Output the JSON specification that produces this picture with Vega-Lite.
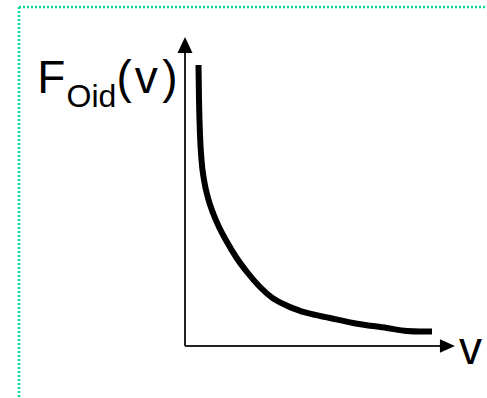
{
  "$schema": "https://vega.github.io/schema/vega-lite/v6.json",
  "width": 487,
  "height": 398,
  "padding": 0,
  "autosize": {"type": "none"},
  "background": "white",
  "config": {"view": {"stroke": null}},
  "datasets": {
    "frame": [
      {"x": -6.148, "y": 10.935, "x2": 11.3, "y2": 10.935},
      {"x": -6.148, "y": 10.935, "x2": -6.148, "y2": -2.0}
    ],
    "axes": [
      {"x": 0, "y": 0, "x2": 9.45, "y2": 0},
      {"x": 0, "y": 0, "x2": 0, "y2": 9.45}
    ],
    "yTip": [{"x": 0, "y": 9.71}],
    "xTip": [{"x": 9.72, "y": 0}],
    "curve": [
      {"v": 0.500, "f": 9.065},
      {"v": 0.519, "f": 7.935},
      {"v": 0.556, "f": 6.806},
      {"v": 0.611, "f": 6.000},
      {"v": 0.704, "f": 5.355},
      {"v": 0.852, "f": 4.774},
      {"v": 1.037, "f": 4.290},
      {"v": 1.259, "f": 3.839},
      {"v": 1.556, "f": 3.355},
      {"v": 1.889, "f": 2.871},
      {"v": 2.296, "f": 2.387},
      {"v": 2.778, "f": 1.903},
      {"v": 3.222, "f": 1.560},
      {"v": 3.778, "f": 1.300},
      {"v": 4.519, "f": 1.065},
      {"v": 5.370, "f": 0.903},
      {"v": 6.222, "f": 0.742},
      {"v": 7.481, "f": 0.581},
      {"v": 8.222, "f": 0.484},
      {"v": 8.704, "f": 0.468},
      {"v": 9.148, "f": 0.468}
    ],
    "bigText": [
      {"x": -5.474, "y": 8.152, "t": "F"},
      {"x": -2.537, "y": 8.152, "t": "("},
      {"x": -1.863, "y": 8.152, "t": "v"},
      {"x": -0.841, "y": 8.152, "t": ")"},
      {"x": 10.148, "y": -0.59, "t": "v"}
    ],
    "subText": [
      {"x": -4.389, "y": 7.71, "t": "Oid"}
    ]
  },
  "layer": [
    {
      "data": {"name": "frame"},
      "mark": {"type": "rule", "color": "#00d89c", "strokeWidth": 2.5, "strokeDash": [2, 2]},
      "encoding": {
        "x": {"field": "x", "type": "quantitative", "scale": {"domain": [-6.8519, 11.1852], "nice": false, "zero": false}, "axis": null},
        "y": {"field": "y", "type": "quantitative", "scale": {"domain": [-1.6774, 11.1613], "nice": false, "zero": false}, "axis": null},
        "x2": {"field": "x2"},
        "y2": {"field": "y2"}
      }
    },
    {
      "data": {"name": "axes"},
      "mark": {"type": "rule", "color": "#222222", "strokeWidth": 2},
      "encoding": {
        "x": {"field": "x", "type": "quantitative", "scale": {"domain": [-6.8519, 11.1852], "nice": false, "zero": false}, "axis": null},
        "y": {"field": "y", "type": "quantitative", "scale": {"domain": [-1.6774, 11.1613], "nice": false, "zero": false}, "axis": null},
        "x2": {"field": "x2"},
        "y2": {"field": "y2"}
      }
    },
    {
      "data": {"name": "yTip"},
      "mark": {"type": "point", "shape": "M0,-1.07L1,1.07L-1,1.07Z", "size": 225, "filled": true, "color": "black", "opacity": 1},
      "encoding": {
        "x": {"field": "x", "type": "quantitative", "scale": {"domain": [-6.8519, 11.1852], "nice": false, "zero": false}, "axis": null},
        "y": {"field": "y", "type": "quantitative", "scale": {"domain": [-1.6774, 11.1613], "nice": false, "zero": false}, "axis": null}
      }
    },
    {
      "data": {"name": "xTip"},
      "mark": {"type": "point", "shape": "M1,0L-1,-0.9L-1,0.9Z", "size": 225, "filled": true, "color": "black", "opacity": 1},
      "encoding": {
        "x": {"field": "x", "type": "quantitative", "scale": {"domain": [-6.8519, 11.1852], "nice": false, "zero": false}, "axis": null},
        "y": {"field": "y", "type": "quantitative", "scale": {"domain": [-1.6774, 11.1613], "nice": false, "zero": false}, "axis": null}
      }
    },
    {
      "data": {"name": "curve"},
      "mark": {"type": "line", "color": "black", "strokeWidth": 6, "interpolate": "monotone", "strokeCap": "butt", "strokeJoin": "round"},
      "encoding": {
        "x": {"field": "v", "type": "quantitative", "scale": {"domain": [-6.8519, 11.1852], "nice": false, "zero": false}, "axis": null},
        "y": {"field": "f", "type": "quantitative", "scale": {"domain": [-1.6774, 11.1613], "nice": false, "zero": false}, "axis": null}
      }
    },
    {
      "data": {"name": "bigText"},
      "mark": {"type": "text", "font": "Liberation Sans", "fontSize": 46, "align": "left", "baseline": "alphabetic", "color": "black"},
      "encoding": {
        "x": {"field": "x", "type": "quantitative", "scale": {"domain": [-6.8519, 11.1852], "nice": false, "zero": false}, "axis": null},
        "y": {"field": "y", "type": "quantitative", "scale": {"domain": [-1.6774, 11.1613], "nice": false, "zero": false}, "axis": null},
        "text": {"field": "t"}
      }
    },
    {
      "data": {"name": "subText"},
      "mark": {"type": "text", "font": "Liberation Sans", "fontSize": 32, "align": "left", "baseline": "alphabetic", "color": "black"},
      "encoding": {
        "x": {"field": "x", "type": "quantitative", "scale": {"domain": [-6.8519, 11.1852], "nice": false, "zero": false}, "axis": null},
        "y": {"field": "y", "type": "quantitative", "scale": {"domain": [-1.6774, 11.1613], "nice": false, "zero": false}, "axis": null},
        "text": {"field": "t"}
      }
    }
  ]
}
